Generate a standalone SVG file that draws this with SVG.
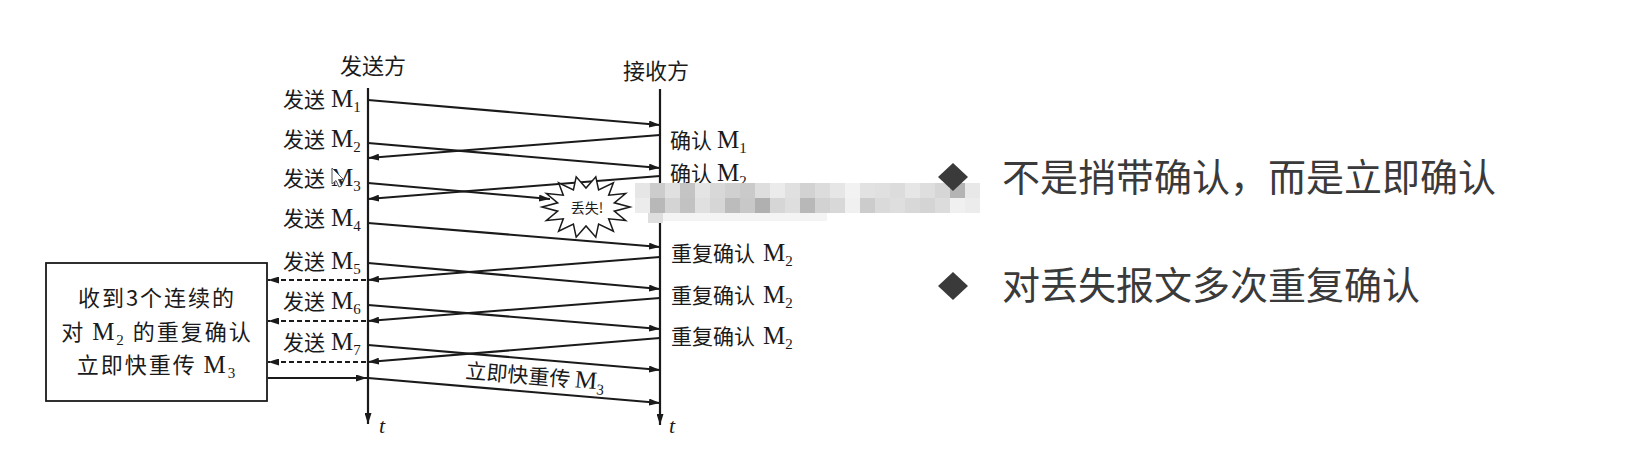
<svg xmlns="http://www.w3.org/2000/svg" width="1625" height="449" viewBox="0 0 1625 449">
<style>
.cjk{font-family:"Noto Sans CJK SC","Noto Sans",sans-serif;fill:#1a1a1a;font-size:21px}
.m{font-family:"Liberation Serif",serif;font-size:25px}
.sub{font-family:"Liberation Serif",serif;font-size:15px}
.t{font-family:"Liberation Serif",serif;font-style:italic;font-size:22px;fill:#1a1a1a}
.ln{stroke:#1a1a1a;stroke-width:2.1;fill:none}
.ax{stroke:#1a1a1a;stroke-width:2.2;fill:none}
.dash{stroke:#1a1a1a;stroke-width:1.8;fill:none;stroke-dasharray:5 3}
.big{font-family:"Noto Sans CJK SC","Noto Sans",sans-serif;font-size:38px;fill:#3a3a3a}
.dia{fill:#3a3a3a}
</style>
<defs>
<marker id="ah" markerUnits="userSpaceOnUse" markerWidth="11" markerHeight="7" refX="11" refY="3.5" orient="auto">
<path d="M0,0 L11,3.5 L0,7 z" fill="#1a1a1a"/>
</marker>
<filter id="bl" x="-5%" y="-20%" width="110%" height="140%"><feGaussianBlur stdDeviation="0.5"/></filter>
</defs>
<rect width="1625" height="449" fill="#ffffff"/>

<g id="sender">
<line class="ax" x1="368" y1="88" x2="368" y2="424" marker-end="url(#ah)"/>
<text class="cjk" x="340" y="74" style="font-size:22px">发送方</text>
<text class="t" x="379" y="433">t</text>
</g>
<g id="receiver">
<line class="ax" x1="660" y1="89" x2="660" y2="425" marker-end="url(#ah)"/>
<text class="cjk" x="623" y="79" style="font-size:22px">接收方</text>
<text class="t" x="669" y="433">t</text>
</g>

<g id="connectors">
<line class="ln" x1="368" y1="100" x2="660" y2="125" marker-end="url(#ah)"/>
<line class="ln" x1="368" y1="143" x2="660" y2="168" marker-end="url(#ah)"/>
<line class="ln" x1="660" y1="135" x2="368" y2="158" marker-end="url(#ah)"/>
<line class="ln" x1="660" y1="176" x2="368" y2="199" marker-end="url(#ah)"/>
<line class="ln" x1="368" y1="183" x2="550" y2="199" marker-end="url(#ah)"/>
<line class="ln" x1="368" y1="223" x2="660" y2="247" marker-end="url(#ah)"/>
<line class="ln" x1="660" y1="257" x2="368" y2="280" marker-end="url(#ah)"/>
<line class="ln" x1="368" y1="263" x2="660" y2="289" marker-end="url(#ah)"/>
<line class="ln" x1="660" y1="298" x2="368" y2="321" marker-end="url(#ah)"/>
<line class="ln" x1="368" y1="305" x2="660" y2="329" marker-end="url(#ah)"/>
<line class="ln" x1="660" y1="338" x2="368" y2="362" marker-end="url(#ah)"/>
<line class="ln" x1="368" y1="345" x2="660" y2="370" marker-end="url(#ah)"/>
<line class="ln" x1="368" y1="378" x2="660" y2="403" marker-end="url(#ah)"/>
<line class="dash" x1="366" y1="280" x2="268" y2="280" marker-end="url(#ah)"/>
<line class="dash" x1="366" y1="321" x2="268" y2="321" marker-end="url(#ah)"/>
<line class="dash" x1="366" y1="362" x2="268" y2="362" marker-end="url(#ah)"/>
<line class="ln" x1="268" y1="378" x2="367" y2="378" marker-end="url(#ah)"/>
</g>

<g id="sender-labels" class="cjk">
<text y="107"><tspan x="283">发送</tspan><tspan x="331" class="m">M</tspan><tspan class="sub" dy="5">1</tspan></text>
<text y="147"><tspan x="283">发送</tspan><tspan x="331" class="m">M</tspan><tspan class="sub" dy="5">2</tspan></text>
<text y="186"><tspan x="283">发送</tspan><tspan x="331" class="m">M</tspan><tspan class="sub" dy="5">3</tspan></text>
<text y="226"><tspan x="283">发送</tspan><tspan x="331" class="m">M</tspan><tspan class="sub" dy="5">4</tspan></text>
<text y="269"><tspan x="283">发送</tspan><tspan x="331" class="m">M</tspan><tspan class="sub" dy="5">5</tspan></text>
<text y="309"><tspan x="283">发送</tspan><tspan x="331" class="m">M</tspan><tspan class="sub" dy="5">6</tspan></text>
<text y="350"><tspan x="283">发送</tspan><tspan x="331" class="m">M</tspan><tspan class="sub" dy="5">7</tspan></text>
</g>

<g id="receiver-labels" class="cjk">
<text y="148"><tspan x="670">确认</tspan><tspan x="717" class="m">M</tspan><tspan class="sub" dy="5">1</tspan></text>
<text y="181"><tspan x="670">确认</tspan><tspan x="717" class="m">M</tspan><tspan class="sub" dy="5">2</tspan></text>
<text y="261"><tspan x="671">重复确认</tspan><tspan x="763" class="m">M</tspan><tspan class="sub" dy="5">2</tspan></text>
<text y="303"><tspan x="671">重复确认</tspan><tspan x="763" class="m">M</tspan><tspan class="sub" dy="5">2</tspan></text>
<text y="344"><tspan x="671">重复确认</tspan><tspan x="763" class="m">M</tspan><tspan class="sub" dy="5">2</tspan></text>
</g>

<g id="retransmit-label">
<text class="cjk" x="465" y="378" transform="rotate(4.9 465 378)">立即快重传 <tspan class="m">M</tspan><tspan class="sub" dy="5">3</tspan></text>
</g>

<g id="box">
<rect x="46" y="263" width="221" height="138" fill="#fff" stroke="#1a1a1a" stroke-width="1.8"/>
<text class="cjk" x="157" y="306" text-anchor="middle" style="font-size:22px;letter-spacing:2px">收到3个连续的</text>
<text class="cjk" x="157" y="340" text-anchor="middle" style="font-size:22px;letter-spacing:2px">对 <tspan class="m">M</tspan><tspan class="sub" dy="5">2</tspan><tspan dy="-5"> 的重复确认</tspan></text>
<text class="cjk" x="157" y="373" text-anchor="middle" style="font-size:22px;letter-spacing:2px">立即快重传 <tspan class="m">M</tspan><tspan class="sub" dy="5">3</tspan></text>
</g>

<g id="lost">
<polygon points="630,207 614.3,211.2 625.6,220.5 608.7,218.8 613.4,231.2 598.6,224.1 595.8,237.2 586,226 576.2,237.2 573.4,224.1 558.6,231.2 563.3,218.8 546.4,220.5 557.7,211.2 542,207 557.7,202.8 546.4,193.5 563.3,195.2 558.6,182.8 573.4,189.9 576.2,176.8 586,188 595.8,176.8 598.6,189.9 613.4,182.8 608.7,195.2 625.6,193.5 614.3,202.8" fill="#fff" stroke="#1a1a1a" stroke-width="1.5"/>
<text class="cjk" x="587" y="213" text-anchor="middle" style="font-size:14px">丢失!</text>
</g>

<g id="mosaic" filter="url(#bl)">
<rect x="635" y="183" width="15" height="15" fill="#e6e6e6"/><rect x="650" y="183" width="15" height="15" fill="#cccccc"/><rect x="665" y="183" width="15" height="15" fill="#e0e0e0"/><rect x="680" y="183" width="15" height="15" fill="#c4c4c4"/><rect x="695" y="183" width="15" height="15" fill="#e4e4e4"/><rect x="710" y="183" width="15" height="15" fill="#d8d8d8"/><rect x="725" y="183" width="15" height="15" fill="#d0d0d0"/><rect x="740" y="183" width="15" height="15" fill="#cacaca"/><rect x="755" y="183" width="15" height="15" fill="#dedede"/><rect x="770" y="183" width="15" height="15" fill="#ebebeb"/><rect x="785" y="183" width="15" height="15" fill="#e0e0e0"/><rect x="800" y="183" width="15" height="15" fill="#d2d2d2"/><rect x="815" y="183" width="15" height="15" fill="#dcdcdc"/><rect x="830" y="183" width="15" height="15" fill="#e6e6e6"/><rect x="845" y="183" width="15" height="15" fill="#f2f2f2"/><rect x="860" y="183" width="15" height="15" fill="#e2e2e2"/><rect x="875" y="183" width="15" height="15" fill="#e0e0e0"/><rect x="890" y="183" width="15" height="15" fill="#dcdcdc"/><rect x="905" y="183" width="15" height="15" fill="#e6e6e6"/><rect x="920" y="183" width="15" height="15" fill="#dedede"/><rect x="935" y="183" width="15" height="15" fill="#d6d6d6"/><rect x="950" y="183" width="15" height="15" fill="#b4b4b4"/><rect x="965" y="183" width="15" height="15" fill="#e8e8e8"/>
<rect x="635" y="198" width="15" height="15" fill="#ececec"/><rect x="650" y="198" width="15" height="15" fill="#b8b8b8"/><rect x="665" y="198" width="15" height="15" fill="#d4d4d4"/><rect x="680" y="198" width="15" height="15" fill="#c2c2c2"/><rect x="695" y="198" width="15" height="15" fill="#e0e0e0"/><rect x="710" y="198" width="15" height="15" fill="#d6d6d6"/><rect x="725" y="198" width="15" height="15" fill="#bcbcbc"/><rect x="740" y="198" width="15" height="15" fill="#c8c8c8"/><rect x="755" y="198" width="15" height="15" fill="#b0b0b0"/><rect x="770" y="198" width="15" height="15" fill="#d6d6d6"/><rect x="785" y="198" width="15" height="15" fill="#dedede"/><rect x="800" y="198" width="15" height="15" fill="#b8b8b8"/><rect x="815" y="198" width="15" height="15" fill="#d2d2d2"/><rect x="830" y="198" width="15" height="15" fill="#d8d8d8"/><rect x="845" y="198" width="15" height="15" fill="#f0f0f0"/><rect x="860" y="198" width="15" height="15" fill="#cccccc"/><rect x="875" y="198" width="15" height="15" fill="#dadada"/><rect x="890" y="198" width="15" height="15" fill="#dedede"/><rect x="905" y="198" width="15" height="15" fill="#d8d8d8"/><rect x="920" y="198" width="15" height="15" fill="#d4d4d4"/><rect x="935" y="198" width="15" height="15" fill="#dcdcdc"/><rect x="950" y="198" width="15" height="15" fill="#f0f0f0"/><rect x="965" y="198" width="15" height="15" fill="#ececec"/>
<rect x="648" y="213" width="15" height="10" fill="#dedede"/><rect x="663" y="213" width="164" height="8" fill="#f4f4f4"/>
</g>

<g id="cursor">
<path d="M332,168 L332,184 L336,180.5 L339,187 L341.5,186 L338.5,179.5 L343.5,179.5 Z" fill="#fff" stroke="#555" stroke-width="1"/>
</g>

<g id="bullet1">
<polygon class="dia" points="953,163 968,177 953,191 938,177"/>
<text class="big" x="1002" y="191">不是捎带确认，而是立即确认</text>
</g>
<g id="bullet2">
<polygon class="dia" points="953,272 968,286 953,300 938,286"/>
<text class="big" x="1002" y="299">对丢失报文多次重复确认</text>
</g>
</svg>
